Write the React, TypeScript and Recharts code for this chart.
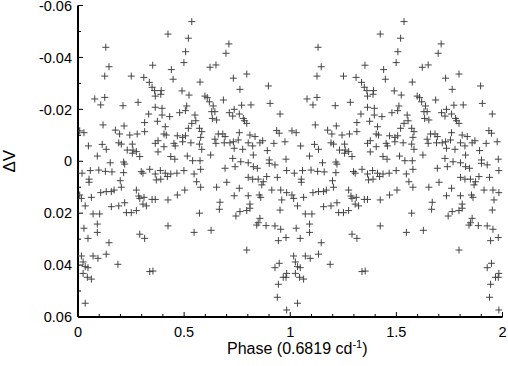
import { ScatterChart, Scatter, XAxis, YAxis, Label } from "recharts";

const phase = [
  0.424, 0.131, 0.507, 0.499, 0.146, 0.352, 0.44, 0.126, 0.251, 0.31, 0.448, 0.336, 0.349, 0.361, 0.392, 0.49,
  0.364, 0.39, 0.079, 0.126, 0.107, 0.212, 0.283, 0.364, 0.396, 0.512, 0.52, 0.536, 0.711, 0.697, 0.622, 0.65,
  0.795, 0.732, 0.575, 0.897, 0.763, 0.523, 0.598, 0.609, 0.619, 0.685, 0.637, 0.771, 0.815, 0.905, 0.736, 0.333,
  0.396, 0.432, 0.479, 0.506, 0.314, 0.374, 0.118, 0.217, 0.411, 0.176, 0.314, 0.008, 0.028, 0.196, 0.244, 0.279,
  0.405, 0.416, 0.468, 0.506, 0.377, 0.364, 0.452, 0.458, 0.114, 0.192, 0.204, 0.256, 0.133, 0.049, 0.259, 0.232,
  0.275, 0.256, 0.291, 0.377, 0.405, 0.091, 0.437, 0.456, 0.215, 0.22, 0.152, 0.019, 0.058, 0.098, 0.129, 0.16,
  0.215, 0.298, 0.306, 0.338, 0.364, 0.388, 0.411, 0.437, 0.466, 0.499, 0.052, 0.052, 0.199, 0.369, 0.39, 0.421,
  0.204, 0.17, 0.157, 0.107, 0.133, 0.275, 0.503, 0.008, 0.016, 0.063, 0.286, 0.291, 0.311, 0.349, 0.364, 0.424,
  0.468, 0.22, 0.157, 0.192, 0.322, 0.034, 0.306, 0.071, 0.102, 0.228, 0.251, 0.275, 0.091, 0.028, 0.091, 0.424,
  0.291, 0.314, 0.047, 0.146, 0.133, 0.016, 0.071, 0.094, 0.024, 0.034, 0.047, 0.188, 0.024, 0.044, 0.063, 0.338,
  0.353, 0.034, 0.551, 0.555, 0.536, 0.52, 0.572, 0.583, 0.63, 0.645, 0.633, 0.653, 0.713, 0.729, 0.76, 0.779,
  0.784, 0.795, 0.952, 0.493, 0.493, 0.532, 0.572, 0.583, 0.578, 0.661, 0.682, 0.693, 0.645, 0.65, 0.689, 0.716,
  0.732, 0.755, 0.76, 0.81, 0.834, 0.87, 0.857, 0.802, 0.823, 0.936, 0.948, 0.923, 0.975, 0.736, 0.776, 0.826,
  0.892, 0.515, 0.54, 0.575, 0.625, 0.729, 0.767, 0.802, 0.826, 0.845, 0.901, 0.901, 0.928, 0.98, 0.693, 0.74,
  0.578, 0.983, 0.547, 0.802, 0.823, 0.849, 0.889, 0.939, 0.559, 0.701, 0.866, 0.873, 0.578, 0.653, 0.76, 0.913,
  0.955, 0.983, 0.736, 0.802, 0.854, 0.861, 0.96, 0.669, 0.81, 0.666, 0.81, 0.952, 0.572, 0.763, 0.795, 0.744,
  0.857, 0.849, 0.842, 0.886, 0.928, 0.955, 0.547, 0.627, 0.944, 0.98, 0.795, 0.948, 0.928, 0.983, 0.967, 0.98,
  0.944, 0.939, 0.983,
];

const deltaV = [
  -0.049, -0.0439, -0.0422, -0.038, -0.0364, -0.037, -0.0353, -0.0328, -0.0328, -0.0323, -0.0316, -0.0304,
  -0.0285, -0.0272, -0.0272, -0.0271, -0.0251, -0.0258, -0.024, -0.0246, -0.0217, -0.0214, -0.0227, -0.0208,
  -0.0204, -0.0213, -0.0474, -0.0538, -0.0452, -0.0416, -0.0362, -0.0371, -0.0336, -0.032, -0.0305, -0.029,
  -0.0277, -0.0255, -0.0251, -0.0245, -0.0229, -0.0236, -0.0213, -0.0216, -0.0217, -0.0223, -0.02, -0.0182,
  -0.0178, -0.0172, -0.0187, -0.0195, -0.0149, -0.0154, -0.014, -0.0136, -0.0133, -0.012, -0.0114, -0.0117,
  -0.011, -0.0105, -0.0101, -0.0105, -0.0105, -0.0101, -0.0098, -0.0098, -0.0079, -0.0069, -0.0069, -0.0059,
  -0.0065, -0.0071, -0.0066, -0.0066, -0.0046, -0.0059, -0.0043, -0.0043, -0.0037, -0.0031, -0.0018, -0.0036,
  -0.0056, -0.002, -0.0018, -0.0008, 0.0003, 0.0011, 0.0006, 0.0046, 0.0036, 0.0034, 0.0039, 0.0041, 0.0044,
  0.004, 0.0046, 0.0031, 0.0049, 0.0036, 0.0046, 0.0049, 0.0046, 0.0036, 0.0069, 0.0081, 0.0075, 0.0072,
  0.0069, 0.0059, 0.01, 0.0111, 0.0117, 0.0121, 0.0117, 0.0111, 0.0111, 0.013, 0.0143, 0.0139, 0.0134, 0.0143,
  0.0139, 0.0147, 0.0147, 0.0149, 0.013, 0.016, 0.0175, 0.0172, 0.0172, 0.0172, 0.0165, 0.0203, 0.0203, 0.0198,
  0.0198, 0.019, 0.0242, 0.0258, 0.0274, 0.0249, 0.0281, 0.0297, 0.0297, 0.0314, 0.0358, 0.0365, 0.0365,
  0.0374, 0.0388, 0.0406, 0.041, 0.0397, 0.0432, 0.0447, 0.0454, 0.0425, 0.0423, 0.0547, -0.0178, -0.0156,
  -0.0146, -0.0127, -0.0127, -0.0114, -0.0191, -0.0191, -0.0165, -0.0159, -0.0187, -0.0174, -0.0182, -0.0165,
  -0.0156, -0.0146, -0.0182, -0.0092, -0.0075, -0.0071, -0.0066, -0.0046, -0.0092, -0.0105, -0.0105, -0.0095,
  -0.0085, -0.0069, -0.0071, -0.0071, -0.0075, -0.0082, -0.011, -0.0101, -0.0095, -0.0079, -0.0071, -0.0071,
  -0.0059, -0.0118, -0.0108, -0.0069, -0.0075, -0.005, -0.0046, -0.0024, -0.0041, -0.002, -0.0002, -0.0002,
  -0.0024, -0.0011, 0.0002, 0.0006, 0.0021, 0.0027, -0.0005, 0.0008, 0.0014, -0.0008, 0.0027, 0.0021, 0.0031,
  0.0036, 0.0049, 0.0062, 0.0069, 0.0069, 0.0059, 0.0062, 0.0079, 0.0081, 0.0091, 0.0079, 0.01, 0.01, 0.0104,
  0.0111, 0.0111, 0.0121, 0.0133, 0.0133, 0.013, 0.0139, 0.0149, 0.0158, 0.0165, 0.0185, 0.0181, 0.0188, 0.02,
  0.0194, 0.019, 0.0211, 0.022, 0.0237, 0.0246, 0.0248, 0.0249, 0.0262, 0.0274, 0.0266, 0.0306, 0.0294,
  0.0342, 0.0393, 0.041, 0.0432, 0.0447, 0.0447, 0.0474, 0.0524, 0.0573,
];

const xMajorTicks = [0, 0.5, 1, 1.5, 2];
const xMinorTicks = [0.1, 0.2, 0.3, 0.4, 0.6, 0.7, 0.8, 0.9, 1.1, 1.2, 1.3, 1.4, 1.6, 1.7, 1.8, 1.9];
const yMajorTicks = [-0.06, -0.04, -0.02, 0, 0.02, 0.04, 0.06];
const yMinorTicks = [-0.05, -0.03, -0.01, 0.01, 0.03, 0.05];

const points = [
  ...phase.map((p, i) => ({ phase: p, dv: deltaV[i] })),
  ...phase.map((p, i) => ({ phase: p + 1, dv: deltaV[i] })),
];

const FONT = "'Liberation Sans', Arial, sans-serif";
const W = 508;
const H = 366;

function Cross(props: any) {
  const { cx, cy } = props;
  if (cx == null || cy == null) return <g />;
  return (
    <path d={`M${cx - 3.5},${cy}h7M${cx},${cy - 3.5}v7`} stroke="#444" strokeWidth={1} fill="none" />
  );
}

const tickLen = (major: boolean) => (major ? 5 : 3);

function BottomTick(props: any) {
  const { x, y, payload } = props;
  const major = xMajorTicks.includes(payload.value);
  return (
    <g>
      <line x1={x} x2={x} y1={y} y2={y - tickLen(major)} stroke="#000" strokeWidth={1} />
      {major && (
        <text x={x} y={y + 20} textAnchor="middle" fontSize={14.5} fontFamily={FONT} fill="#000">
          {String(payload.value)}
        </text>
      )}
    </g>
  );
}

function TopTick(props: any) {
  const { x, y, payload } = props;
  const major = xMajorTicks.includes(payload.value);
  return <line x1={x} x2={x} y1={y} y2={y + tickLen(major)} stroke="#000" strokeWidth={1} />;
}

function LeftTick(props: any) {
  const { x, y, payload } = props;
  const major = yMajorTicks.includes(payload.value);
  return (
    <g>
      <line x1={x} x2={x + tickLen(major)} y1={y} y2={y} stroke="#000" strokeWidth={1} />
      {major && (
        <text x={x - 6} y={y} dy="0.36em" textAnchor="end" fontSize={14.5} fontFamily={FONT} fill="#000">
          {String(payload.value)}
        </text>
      )}
    </g>
  );
}

function RightTick(props: any) {
  const { x, y, payload } = props;
  const major = yMajorTicks.includes(payload.value);
  return <line x1={x} x2={x - tickLen(major)} y1={y} y2={y} stroke="#000" strokeWidth={1} />;
}

function XTitle(props: any) {
  const vb = props.viewBox;
  return (
    <text x={vb.x + vb.width / 2 + 7} y={vb.y + 37} textAnchor="middle" fontSize={16} fontFamily={FONT} fill="#000">
      Phase (0.6819 cd
      <tspan fontSize={11} dy={-6}>-1</tspan>
      <tspan dy={6}>)</tspan>
    </text>
  );
}

function YTitle(props: any) {
  const vb = props.viewBox;
  const cx = vb.x + 15;
  const cy = vb.y + vb.height / 2;
  return (
    <text
      x={cx}
      y={cy}
      textAnchor="middle"
      transform={`rotate(-90 ${cx} ${cy})`}
      fontSize={17}
      fontFamily={FONT}
      fill="#000"
    >
      ΔV
    </text>
  );
}

const axisLine = { stroke: "#000", strokeWidth: 2 };

export default function App() {
  return (
    <div style={{ position: "absolute", left: 0, top: 0, width: W, height: H, background: "#fff" }}>
      <ScatterChart width={W} height={H} margin={{ top: 5.5, right: 5.5, bottom: 0, left: 0 }}>
        <XAxis
          xAxisId="b"
          dataKey="phase"
          type="number"
          domain={[0, 2]}
          allowDataOverflow
          ticks={[...xMajorTicks, ...xMinorTicks]}
          interval={0}
          height={49}
          axisLine={axisLine}
          tickLine={false}
          tickSize={0}
          tickMargin={0}
          tick={BottomTick}
        >
          <Label content={XTitle} />
        </XAxis>
        <XAxis
          xAxisId="t"
          orientation="top"
          dataKey="phase"
          type="number"
          domain={[0, 2]}
          allowDataOverflow
          ticks={[...xMajorTicks, ...xMinorTicks]}
          interval={0}
          height={0}
          axisLine={axisLine}
          tickLine={false}
          tickSize={0}
          tickMargin={0}
          tick={TopTick}
        />
        <YAxis
          yAxisId="l"
          dataKey="dv"
          type="number"
          domain={[-0.06, 0.06]}
          allowDataOverflow
          reversed
          ticks={[...yMajorTicks, ...yMinorTicks]}
          interval={0}
          width={78}
          axisLine={axisLine}
          tickLine={false}
          tickSize={0}
          tickMargin={0}
          tick={LeftTick}
        >
          <Label content={YTitle} />
        </YAxis>
        <YAxis
          yAxisId="r"
          orientation="right"
          dataKey="dv"
          type="number"
          domain={[-0.06, 0.06]}
          allowDataOverflow
          reversed
          ticks={[...yMajorTicks, ...yMinorTicks]}
          interval={0}
          width={0}
          axisLine={axisLine}
          tickLine={false}
          tickSize={0}
          tickMargin={0}
          tick={RightTick}
        />
        <Scatter xAxisId="t" yAxisId="r" data={points} shape={() => <g />} isAnimationActive={false} />
        <Scatter xAxisId="b" yAxisId="l" data={points} shape={Cross} isAnimationActive={false} />
      </ScatterChart>
    </div>
  );
}
